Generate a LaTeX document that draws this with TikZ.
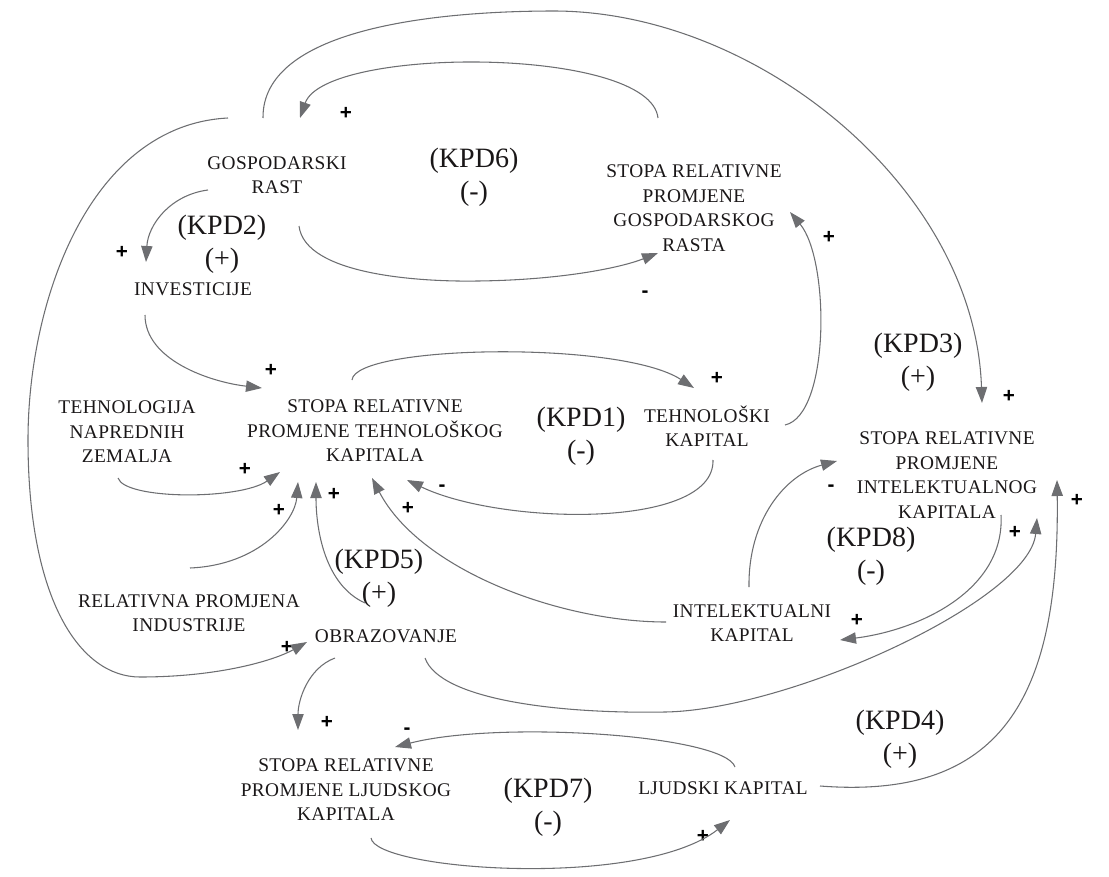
\documentclass[tikz,border=0pt]{standalone}
\usepackage{fontspec}
\setmainfont{Liberation Serif}
\newfontfamily\varfont[LetterSpace=2]{Liberation Serif}
\newfontfamily\signfont{Liberation Sans}
\usetikzlibrary{arrows.meta,calc}
\definecolor{lc}{HTML}{6D6E71}
\definecolor{tc}{HTML}{1A1718}
\tikzset{
  var/.style={align=center,inner sep=0pt,text=tc,font=\varfont\fontsize{14.5}{18.4}\selectfont},
  kpd/.style={align=center,inner sep=0pt,text=tc,font=\fontsize{21}{25}\selectfont},
  sgn/.style={inner sep=0pt,text=black,font=\signfont\bfseries\fontsize{15.5}{15.5}\selectfont},
  arr/.style={draw=lc,line width=0.8pt,-{Triangle[length=12pt,width=8.5pt]}},
}
\begin{document}
\begin{tikzpicture}[x=0.75pt,y=-0.75pt]
\path[use as bounding box] (0,0) rectangle (1109,877);
% variables
\node[var] (gosp)  at (277,175) {GOSPODARSKI\\RAST};
\node[var] (inv)   at (193,289) {INVESTICIJE};
\node[var] (srpgr) at (694,208) {STOPA RELATIVNE\\PROMJENE\\GOSPODARSKOG\\RASTA};
\node[var] (srptk) at (375,431) {STOPA RELATIVNE\\PROMJENE TEHNOLOŠKOG\\KAPITALA};
\node[var] (tnz)   at (127,432) {TEHNOLOGIJA\\NAPREDNIH\\ZEMALJA};
\node[var] (tk)    at (707,426) {TEHNOLOŠKI\\KAPITAL};
\node[var] (srpik) at (947,475) {STOPA RELATIVNE\\PROMJENE\\INTELEKTUALNOG\\KAPITALA};
\node[var] (rpi)   at (189,613) {RELATIVNA PROMJENA\\INDUSTRIJE};
\node[var] (obr)   at (386,636) {OBRAZOVANJE};
\node[var] (ik)    at (752,623) {INTELEKTUALNI\\KAPITAL};
\node[var] (srplk) at (346,790) {STOPA RELATIVNE\\PROMJENE LJUDSKOG\\KAPITALA};
\node[var] (lk)    at (723,788) {LJUDSKI KAPITAL};
% loop labels
\node[kpd] (kpd2) at (222,244.5) {(KPD2)\\(+)};
\node[kpd] (kpd6) at (474,177.5) {(KPD6)\\(-)};
\node[kpd] (kpd1) at (581,436) {(KPD1)\\(-)};
\node[kpd] (kpd3) at (918,362.5) {(KPD3)\\(+)};
\node[kpd] (kpd8) at (871,556) {(KPD8)\\(-)};
\node[kpd] (kpd5) at (379,578) {(KPD5)\\(+)};
\node[kpd] (kpd4) at (900,739) {(KPD4)\\(+)};
\node[kpd] (kpd7) at (548,807) {(KPD7)\\(-)};
% polarity signs
\node[sgn] (s1)  at (1009,396) {+};
\node[sgn] (s2)  at (346,113) {+};
\node[sgn] (s3)  at (645,294) {-};
\node[sgn] (s4)  at (122,252) {+};
\node[sgn] (s5)  at (271,370) {+};
\node[sgn] (s6)  at (717,378) {+};
\node[sgn] (s7)  at (442,488) {-};
\node[sgn] (s8)  at (829,237) {+};
\node[sgn] (s9)  at (245,469) {+};
\node[sgn] (s10) at (279,510) {+};
\node[sgn] (s11) at (334,494) {+};
\node[sgn] (s12) at (408,508) {+};
\node[sgn] (s13) at (857,620) {+};
\node[sgn] (s14) at (831,488) {-};
\node[sgn] (s15) at (1015,532) {+};
\node[sgn] (s16) at (1077,500) {+};
\node[sgn] (s17) at (327,722) {+};
\node[sgn] (s18) at (703,836) {+};
\node[sgn] (s19) at (407,731) {-};
\node[sgn] (s20) at (287,647) {+};
% connectors
\draw[arr] ($(gosp)+(-14,-57)$) .. controls (262,30) and (430,11) .. (555,11)
  .. controls (760,12) and (975,190) .. ($(srpik)+(35,-72)$);
\draw[arr] ($(srpgr)+(-36,-90)$) .. controls (650,46) and (325,46) .. ($(gosp)+(23,-57)$);
\draw[arr] ($(gosp)+(22,51)$) .. controls (305,275) and (420,282) .. (478,281)
  .. controls (560,280) and (620,268) .. ($(srpgr)+(-36,45)$);
\draw[arr] ($(gosp)+(-69,15)$) .. controls (170,195) and (148,225) .. ($(inv)+(-47,-27)$);
\draw[arr] ($(inv)+(-48,26)$) .. controls (145,360) and (210,382) .. ($(srptk)+(-113,-43)$);
\draw[arr] ($(srptk)+(-23,-51)$) .. controls (355,345) and (620,340) .. ($(tk)+(-13,-38)$);
\draw[arr] ($(tk)+(6,34)$) .. controls (715,530) and (500,525) .. ($(srptk)+(32,49)$);
\draw[arr] ($(tk)+(78,-1)$) .. controls (830,415) and (830,260) .. ($(srpgr)+(96,4)$);
\draw[arr] ($(tnz)+(-9,46)$) .. controls (125,500) and (240,500) .. ($(srptk)+(-95,41)$);
\draw[arr] ($(rpi)+(1,-45)$) .. controls (260,565) and (295,520) .. ($(srptk)+(-77,51)$);
\draw[arr] ($(obr)+(-21,-33)$) .. controls (325,585) and (316,530) .. ($(srptk)+(-59,51)$);
\draw[arr] ($(ik)+(-86,-1)$) .. controls (560,622) and (420,570) .. ($(srptk)+(-3,47)$);
\draw[arr] ($(srpik)+(54,40)$) .. controls (1005,590) and (920,630) .. ($(ik)+(88,17)$);
\draw[arr] ($(ik)+(-3,-36)$) .. controls (748,520) and (785,475) .. ($(srpik)+(-110,-14)$);
\draw[arr] ($(obr)+(39,22)$) .. controls (440,700) and (560,714) .. (665,712)
  .. controls (790,710) and (1030,600) .. ($(srpik)+(90,43)$);
\draw[arr] ($(lk)+(97,-2)$) .. controls (1000,800) and (1060,700) .. ($(srpik)+(110,5)$);
\draw[arr] ($(obr)+(-51,22)$) .. controls (308,668) and (298,700) .. ($(srplk)+(-48,-60)$);
\draw[arr] ($(srplk)+(25,48)$) .. controls (375,870) and (640,890) .. ($(lk)+(7,32)$);
\draw[arr] ($(lk)+(12,-21)$) .. controls (725,735) and (500,720) .. ($(srplk)+(49,-43)$);
\draw[arr] ($(gosp)+(-49,-57)$) .. controls (90,125) and (28,300) .. (28,440)
  .. controls (28,600) and (80,677) .. (140,677)
  .. controls (220,677) and (275,660) .. ($(obr)+(-79,6)$);
\end{tikzpicture}
\end{document}
